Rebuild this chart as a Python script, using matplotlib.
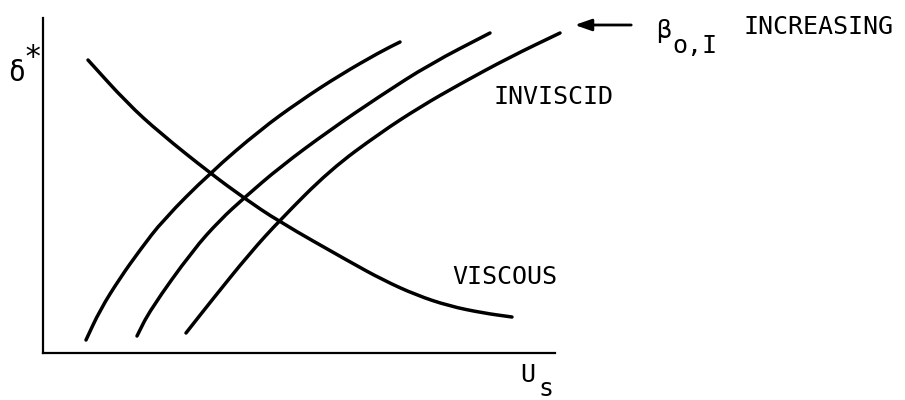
import matplotlib
matplotlib.use("Agg")
import matplotlib.pyplot as plt
from matplotlib.path import Path
from matplotlib.patches import PathPatch

# Data (arbitrary units: x = U_s, y = delta*)
viscous_x = [45, 84, 117, 167, 201, 235, 307, 340, 373, 406, 440, 469]
viscous_y = [293, 250, 220, 180, 155, 132, 91, 73, 58, 47, 40, 36]

inv1_x = [43, 57, 77, 97, 120, 167, 217, 257, 297, 337, 357]
inv1_y = [13, 43, 75, 103, 133, 180, 223, 252, 278, 301, 311]

inv2_x = [94, 107, 150, 177, 201, 237, 287, 337, 387, 447]
inv2_y = [17, 43, 103, 133, 155, 186, 223, 257, 289, 320]

inv3_x = [143, 169, 207, 237, 287, 337, 377, 417, 467, 517]
inv3_y = [20, 53, 100, 133, 183, 220, 246, 269, 296, 320]

W, H = 905, 400
fig = plt.figure(figsize=(W / 100, H / 100), dpi=100)
ax = fig.add_axes([43 / W, 47 / H, 512 / W, 335 / H])
ax.set_xlim(0, 512)
ax.set_ylim(0, 335)
for s in ["top", "right"]:
    ax.spines[s].set_visible(False)
for s in ["left", "bottom"]:
    ax.spines[s].set_linewidth(1.6)
ax.set_xticks([])
ax.set_yticks([])


def smooth_curve(xs, ys):
    """Quadratic-Bezier path through midpoints, using the data points as controls."""
    pts = list(zip(xs, ys))
    verts = [pts[0]]
    codes = [Path.MOVETO]
    mids = [((pts[i][0] + pts[i + 1][0]) / 2, (pts[i][1] + pts[i + 1][1]) / 2)
            for i in range(len(pts) - 1)]
    verts.append(mids[0])
    codes.append(Path.LINETO)
    for i in range(1, len(pts) - 1):
        verts += [pts[i], mids[i]]
        codes += [Path.CURVE3, Path.CURVE3]
    verts.append(pts[-1])
    codes.append(Path.LINETO)
    return Path(verts, codes)


lw = 2.5
for xs, ys in [(viscous_x, viscous_y), (inv1_x, inv1_y), (inv2_x, inv2_y), (inv3_x, inv3_y)]:
    patch = PathPatch(smooth_curve(xs, ys), facecolor="none", edgecolor="black",
                      lw=lw, capstyle="round", joinstyle="round", clip_on=False)
    ax.add_patch(patch)

font = "DejaVu Sans Mono"
fs = 18

def ftext(px, py, s, size=fs, **kw):
    fig.text(px / W, 1 - py / H, s, fontsize=size, family=font, ha="left", va="center", **kw)

ftext(493, 97, "INVISCID")
ftext(452, 277, "VISCOUS")
ftext(743, 27, "INCREASING")
# beta_{o,I}
ftext(656, 31, "\u03b2", size=18)
ftext(672, 46, "o,I", size=18)
# delta*
ftext(8, 73, "\u03b4", size=20)
ftext(23, 58, "*", size=22)
# U_s
ftext(520, 375, "U", size=18)
ftext(538, 389, "s", size=18)

# arrow
ax.annotate("", xy=(572, H - 25), xytext=(634, H - 25),
            xycoords="figure pixels", textcoords="figure pixels",
            arrowprops=dict(arrowstyle="-|>,head_length=1.0,head_width=0.35", color="black", lw=2))

fig.savefig("out.png", dpi=100)
